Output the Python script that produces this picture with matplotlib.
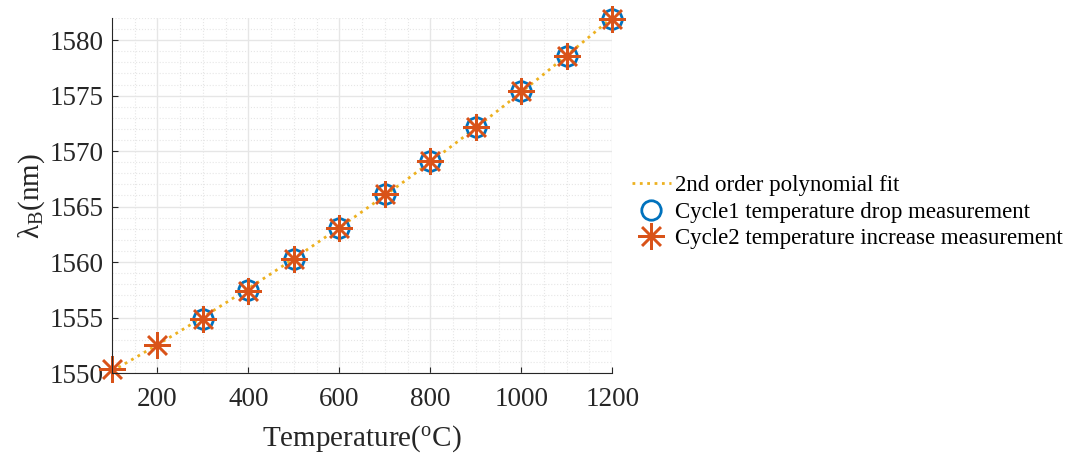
import matplotlib.pyplot as plt
from matplotlib.ticker import MultipleLocator
import numpy as np

# datos
temp_c1 = [300, 400, 500, 600, 700, 800, 900, 1000, 1100, 1200]
lam_c1 = [1554.9, 1557.5, 1560.3, 1563.1, 1566.1, 1569.1, 1572.2, 1575.4, 1578.6, 1581.9]
temp_c2 = [100, 200, 300, 400, 500, 600, 700, 800, 900, 1000, 1100, 1200]
lam_c2 = [1550.4, 1552.5, 1554.9, 1557.4, 1560.3, 1563.1, 1566.1, 1569.1, 1572.2, 1575.4, 1578.6, 1581.9]

plt.rcParams['font.family'] = ['Liberation Serif', 'DejaVu Serif']
plt.rcParams['mathtext.fontset'] = 'custom'
plt.rcParams['mathtext.rm'] = 'Liberation Serif'
plt.rcParams['mathtext.it'] = 'Liberation Serif:italic'

fig = plt.figure(figsize=(10.71, 4.54), dpi=100)
ax = fig.add_axes([0.1046, 0.1784, 0.467, 0.782])

# ajuste polinomial de segundo orden
coef = np.polyfit(temp_c2, lam_c2, 2)
x_fit = np.linspace(min(temp_c2), max(temp_c2), 200)
ax.plot(x_fit, np.polyval(coef, x_fit), ':', color='#EDB120', lw=2,
        label='2nd order polynomial fit')
ax.plot(temp_c1, lam_c1, 'o', ms=14, mfc='none', mec='#0072BD', mew=2,
        label='Cycle1 temperature drop measurement', clip_on=False)
ax.plot(temp_c2, lam_c2, ls='none', marker=(8, 2, 0), ms=19, mec='#D95319',
        mew=1.8, label='Cycle2 temperature increase measurement', clip_on=False)

ax.set_xlim(100, 1200)
ax.set_ylim(1550, 1582)
ax.xaxis.set_major_locator(MultipleLocator(200))
ax.xaxis.set_minor_locator(MultipleLocator(50))
ax.yaxis.set_major_locator(MultipleLocator(5))
ax.yaxis.set_minor_locator(MultipleLocator(1))
ax.grid(which='major', color='#e6e6e6', lw=1)
ax.grid(which='minor', color='#e6e6e6', lw=0.8, ls=':')
ax.set_axisbelow(True)

for s in ['top', 'right']:
    ax.spines[s].set_visible(False)
for s in ['left', 'bottom']:
    ax.spines[s].set_color('#262626')
ax.tick_params(which='both', direction='in', colors='#262626', labelsize=19.5)
ax.tick_params(which='major', length=4)
ax.tick_params(which='minor', length=0)
ax.tick_params(axis='x', pad=10)
ax.tick_params(axis='y', pad=6)

ax.set_xlabel('Temperature($^{\\rm o}$C)', fontsize=21, color='#262626', labelpad=8)
ax.set_ylabel('λ$_{\\rm B}$(nm)', fontsize=21, color='#262626', labelpad=2)

fig.legend(loc='center left', bbox_to_anchor=(0.59, 0.533), frameon=False,
           fontsize=16.5, handlelength=1.7, handletextpad=0.2, labelspacing=0.25,
           borderpad=0, borderaxespad=0)

fig.savefig('out.png', dpi=100)
